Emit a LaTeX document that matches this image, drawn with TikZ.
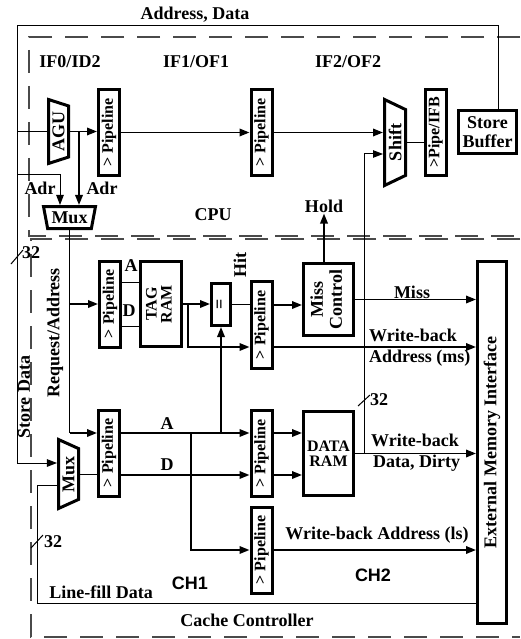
\documentclass[tikz,border=0pt]{standalone}
\usepackage{fontspec}
\usepackage{graphicx}
\setmainfont{Liberation Serif}
\newfontfamily\chfont{Liberation Sans}
\usetikzlibrary{arrows.meta,positioning,shapes.geometric,calc}
\definecolor{DashGray}{HTML}{4A4A4A}
\newcommand{\lblfont}{\fontsize{18}{19}\selectfont\bfseries}
\newcommand{\pipefont}{\fontsize{16}{17}\selectfont\bfseries}
\newcommand{\ramfont}{\fontsize{16}{15}\selectfont\bfseries}
\newcommand{\vtext}[1]{\rotatebox{90}{#1}}
\newcommand{\vtwo}[2]{\rotatebox{90}{\begin{tabular}{@{}c@{}}#1\\#2\end{tabular}}}

\begin{document}
\begin{tikzpicture}[x=1pt,y=-1pt,font=\lblfont,inner sep=1pt,
  blk/.style={draw,line width=3pt,inner sep=0pt,align=center},
  pipe/.style={blk,minimum width=21pt,minimum height=86pt,font=\pipefont},
  trap/.style={blk,trapezium,trapezium stretches body},
  wire/.style={line width=1.8pt},
  bus/.style={line width=1pt},
  arrow/.style={-{Triangle[length=10pt,width=7.5pt]},line width=1.8pt},
  bound/.style={draw=DashGray,line width=1.4pt,dash pattern=on 23pt off 13pt}
]
\useasboundingbox (0,0) rectangle (520,639);
\draw[bound] (520,37) -- (29,37) -- (29,236) -- (520,236);
\draw[bound] (520,239) -- (31,239) -- (31,637) -- (520,637);

\node[trap,rotate=90,trapezium angle=118,minimum width=64pt,minimum height=20pt] (agu) at (58.5,131.5) {AGU};
\node[trap,trapezium angle=109,minimum width=52pt,minimum height=22pt] (muxa) at (69.5,217.5) {Mux};
\node[pipe] (ifa) at (109,132.5) {\vtext{> Pipeline}};
\node[pipe] (ifb) at (261.5,132.5) {\vtext{> Pipeline}};
\node[trap,rotate=90,trapezium angle=128,minimum width=86pt,minimum height=21pt] (shift) at (395,142.5) {Shift};
\node[pipe] (ifc) at (435.5,132.5) {\vtext{>Pipe/IFB}};
\node[blk,minimum width=58pt,minimum height=43pt] (sbuf) at (487.5,132) {Store\\Buffer};

\node[pipe] (ca) at (110,304) {\vtext{> Pipeline}};
\node[blk,minimum width=41pt,minimum height=85pt,font=\ramfont] (tag) at (161,304) {\vtwo{TAG}{RAM}};
\node[blk,minimum width=19pt,minimum height=42pt] (cmp) at (221,304.5) {\vtext{=}};
\node[pipe,minimum height=87pt] (cb) at (261.5,325) {\vtext{> Pipeline}};
\node[blk,minimum width=50pt,minimum height=72pt] (miss) at (328.5,299.5) {\vtwo{Miss}{Control}};
\node[trap,rotate=90,trapezium angle=127,minimum width=69pt,minimum height=20pt] (muxb) at (68.5,474) {Mux};
\node[pipe] (cc) at (109,453) {\vtext{> Pipeline}};
\node[pipe] (cd) at (261.5,453.5) {\vtext{> Pipeline}};
\node[blk,minimum width=50pt,minimum height=84pt,font=\ramfont] (dram) at (328.5,453.5) {DATA\\RAM};
\node[pipe] (ce) at (261.5,550) {\vtext{> Pipeline}};
\node[blk,minimum width=29pt,minimum height=362pt] (emi) at (492,442.5) {\vtext{External Memory Interface}};

\node (addr) at (195,15) {Address, Data};
\node (if0) at (70,62) {IF0/ID2};
\node (if1) at (196,62) {IF1/OF1};
\node (if2) at (348,62) {IF2/OF2};
\node (adra) at (40,188) {Adr};
\node (adrb) at (102,188) {Adr};
\node (cpu) at (213,215) {CPU};
\node (hold) at (324,206) {Hold};
\node (req) at (55,333) {\vtext{Request/Address}};
\node (stdata) at (24,397) {\vtext{Store Data}};
\node (la1) at (131,266) {A};
\node (ld1) at (129,311) {D};
\node (hit) at (240,265) {\vtext{Hit}};
\node (misslbl) at (412,292) {Miss};
\node[anchor=west] (wbm1) at (368,335) {Write-back};
\node[anchor=west] (wbm2) at (368,358) {Address (ms)};
\node (la2) at (167,424) {A};
\node (ld2) at (167,465) {D};
\node[anchor=west] (wbd1) at (370,440) {Write-back};
\node[anchor=west] (wbd2) at (372,463) {Data, Dirty};
\node (wbls) at (377,535) {Write-back Address (ls)};
\node[font=\fontsize{18}{19}\selectfont\chfont\bfseries] (ch1) at (190,583) {CH1};
\node[font=\fontsize{18}{19}\selectfont\chfont\bfseries] (ch2) at (373,575) {CH2};
\node (lfill) at (101,592) {Line-fill Data};
\node (cctl) at (247,620) {Cache Controller};
\node (n32a) at (31,253) {32};
\node (n32b) at (53,542) {32};
\node (n32c) at (379,400) {32};

\coordinate (busr) at (498,26);
\coordinate (busl) at (17,26);
\coordinate (sdin) at (17,463);
\coordinate (adrl) at (60,175);
\coordinate (aguf) at (79,0);
\coordinate (wbx) at (364,0);
\coordinate (shin) at (0,154);
\coordinate (rowa) at (0,433);
\coordinate (rowd) at (0,475);
\coordinate (rowta) at (0,282);
\coordinate (rowtd) at (0,326);
\coordinate (tbx) at (188,0);
\coordinate (brx) at (191,0);
\coordinate (misrow) at (0,305);
\coordinate (wbms) at (0,347);
\coordinate (lfrow) at (0,603);
\coordinate (lfin) at (37,485);

\draw[arrow,bus] (sbuf.north -| busr) -- (busr) -- (busl) |- (muxb.north |- sdin);
\draw[bus] (busl |- agu.north) -- (agu.north);
\draw[arrow,bus] (busl |- adrl) -| (muxa.north -| adrl);
\draw[arrow] (agu.south) -- (agu.south -| ifa.west);
\draw[arrow] (agu.south -| aguf) -- (muxa.north -| aguf);
\draw[arrow] (ifa) -- (ifb);
\draw[arrow] (ifb.east) -- (ifb.east -| shift.north);
\draw[bus] (shift.south) -- (shift.south -| ifc.west);
\draw[arrow,bus] (dram.east -| wbx) |- (shift.north |- shin);
\draw[arrow] (miss.north -| hold) -- (hold.south);

\draw[bus] (muxa.south) -- (muxa.south |- rowa);
\draw[arrow] (muxa.south |- ca.west) -- (ca.west);
\draw[arrow] (muxa.south |- rowa) -- (cc.west |- rowa);
\draw[bus] (muxb.south) -- (cc.west |- muxb.south);
\draw[bus] (ca.east |- rowta) -- (tag.west |- rowta);
\draw[bus] (ca.east |- rowtd) -- (tag.west |- rowtd);
\draw[arrow] (tag.east) -- (tag.east -| cmp.west);
\draw[arrow] (tag.east -| tbx) |- (cb.west |- wbms);
\draw[bus] (cmp.east) -- (cmp.east -| cb.west);
\draw[arrow] (cb.east |- misrow) -- (miss.west |- misrow);
\draw[arrow] (cb.east |- wbms) -- (emi.west |- wbms);
\draw[arrow] (miss) -- (emi.west |- miss);

\draw[arrow] (cc.east |- rowa) -- (cd.west |- rowa);
\draw[arrow] (cc.east |- rowd) -- (cd.west |- rowd);
\draw[arrow] (cmp.south |- rowa) -- (cmp.south);
\draw[arrow] (brx |- rowa) |- (ce.west);
\draw[arrow] (cd.east |- rowa) -- (dram.west |- rowa);
\draw[arrow] (cd.east |- rowd) -- (dram.west |- rowd);
\draw[arrow] (dram) -- (emi.west |- dram);
\draw[arrow] (ce) -- (emi.west |- ce);
\draw[bus] (emi.west |- lfrow) -| (lfin) -- (muxb.north |- lfin);

\draw[bus] (11,264) -- (23,250);
\draw[bus] (31,548) -- (43,535);
\draw[bus] (358,406) -- (370,395);
\end{tikzpicture}
\end{document}
